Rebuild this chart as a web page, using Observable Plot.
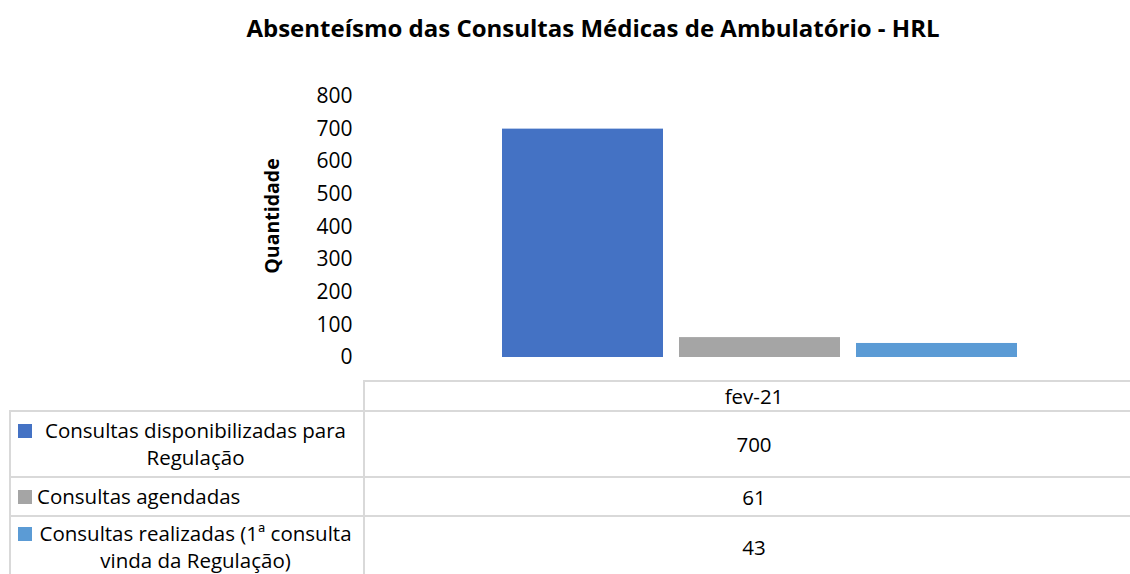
<!DOCTYPE html>
<html>
<head>
<meta charset="utf-8">
<script src="https://cdn.jsdelivr.net/npm/d3@7"></script>
<script src="https://cdn.jsdelivr.net/npm/@observablehq/plot@0.6"></script>
<style>
  html, body { margin: 0; padding: 0; background: #fff; }
  body { width: 1130px; height: 574px; position: relative; overflow: hidden; font-family: "Open Sans", Lato, sans-serif; color: #000; }
  #title { position: absolute; left: 0; top: 12px; width: 1130px; padding-left: 56px; box-sizing: border-box; text-align: center; font-weight: bold; font-size: 24px; line-height: 32px; white-space: nowrap; }
  #chart { position: absolute; left: 0; top: 60px; }
  #chart svg { overflow: visible; }
  #table { position: absolute; left: 9px; top: 380px; width: 1136px; table-layout: fixed; border-collapse: collapse; font-size: 20.5px; }
  #table td { border: 2px solid #d9d9d9; padding: 0; vertical-align: middle; }
  #table td.blank { border-top-color: transparent; border-left-color: transparent; }
  #table td.val { text-align: center; }
  .lab { display: flex; align-items: flex-start; padding: 0 0 0 7px; }
  .key { width: 14px; height: 14px; flex: none; margin-top: 7px; margin-right: 5px; }
  .txt { flex: 1; line-height: 27px; padding-right: 9px; white-space: normal; }
</style>
</head>
<body>
<div id="title"></div>
<div id="chart"></div>
<table id="table"><colgroup><col style="width:354px"><col></colgroup></table>
<script>
const chartTitle = "Absenteísmo das Consultas Médicas de Ambulatório - HRL";
const period = "fev-21";
const series = [
  "Consultas disponibilizadas para Regulação",
  "Consultas agendadas",
  "Consultas realizadas (1ª consulta vinda da Regulação)"
];
const values = [700, 61, 43];
const colors = ["#4472c4", "#a5a5a5", "#5b9bd5"];
const yTicks = [0, 100, 200, 300, 400, 500, 600, 700, 800];
const yLabel = "Quantidade";

document.getElementById("title").textContent = chartTitle;

const data = series.map((s, i) => ({serie: s, value: values[i], period}));

const plot = Plot.plot({
  width: 1130,
  height: 318,
  marginLeft: 363,
  marginRight: 0,
  marginTop: 36,
  marginBottom: 21,
  style: {fontFamily: "'Open Sans', Lato, sans-serif", color: "#000", background: "transparent"},
  x: {domain: series, paddingInner: 0.09, paddingOuter: 0.7, align: 0.55, axis: null},
  y: {domain: [0, 800]},
  color: {domain: series, range: colors},
  marks: [
    Plot.barY(data, {x: "serie", y: "value", fill: "serie"}),
    Plot.axisY({ticks: yTicks, tickSize: 0, tickPadding: 11, fontSize: 21, label: null}),
    Plot.text([yLabel], {text: d => d, frameAnchor: "left", textAnchor: "middle", rotate: -90, dx: -91, dy: -11, fontSize: 19.5, fontWeight: "bold", fill: "#000"})
  ]
});
document.getElementById("chart").appendChild(plot);

// data table
const table = document.getElementById("table");
const rowHeights = [30, 66, 39, 62];
const head = table.insertRow();
head.style.height = rowHeights[0] + "px";
const blank = head.insertCell(); blank.className = "blank";
const hc = head.insertCell(); hc.className = "val"; hc.textContent = period;
series.forEach((s, i) => {
  const tr = table.insertRow();
  tr.style.height = rowHeights[i + 1] + "px";
  const c = tr.insertCell();
  const lab = document.createElement("div"); lab.className = "lab";
  const key = document.createElement("span"); key.className = "key"; key.style.background = colors[i];
  const txt = document.createElement("div"); txt.className = "txt"; txt.textContent = s;
  lab.appendChild(key); lab.appendChild(txt); c.appendChild(lab);
  const v = tr.insertCell(); v.className = "val"; v.textContent = d3.format("d")(values[i]);
});
document.querySelectorAll("#table .txt").forEach(t => {
  t.style.textAlign = t.offsetHeight > 40 ? "center" : "left";
});
</script>
</body>
</html>
